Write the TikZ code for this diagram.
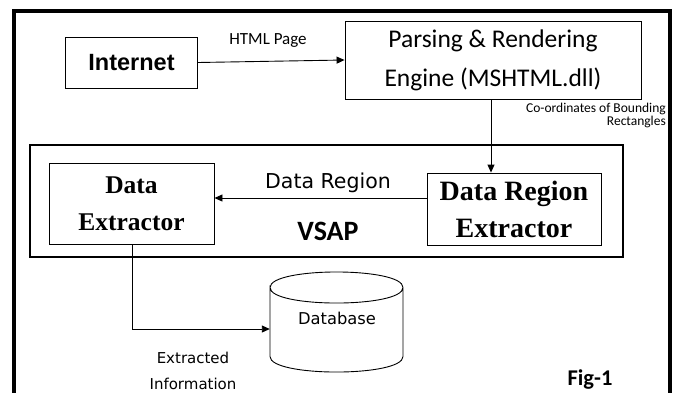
\documentclass[tikz,border=0pt]{standalone}
\usepackage{fontspec}
\setmainfont{Liberation Serif}
\newfontfamily\carfont{Carlito}
\newfontfamily\dvsfont{DejaVu Sans}
\newfontfamily\lsansfont{Liberation Sans}
\usetikzlibrary{arrows.meta,calc}
\begin{document}
\begin{tikzpicture}[x=1pt,y=-1pt,
  boxed/.style={draw, line width=0.9pt, inner sep=0pt, align=center},
  conn/.style={line width=0.9pt, -{Triangle[length=8pt,width=7pt]}},
  plain/.style={inner sep=0pt}]
\useasboundingbox (0,0) rectangle (676,392);
% outer frame
\coordinate (fl) at (14,395);
\coordinate (fr) at (670,395);
\draw[line width=3.5pt] (fl) -- (14,11) -- (670,11) -- (fr);
% nodes
\node[boxed, minimum width=132pt, minimum height=51pt,
  font=\lsansfont\bfseries\fontsize{23.5}{26}\selectfont] (inet) at (131.5,62.5) {Internet};
\node[boxed, minimum width=296pt, minimum height=78pt,
  font=\carfont\fontsize{25.5}{39}\selectfont] (parse) at (493,60)
  {Parsing \& Rendering\\Engine (MSHTML.dll)};
\node[draw, line width=2.4pt, minimum width=593pt, minimum height=112pt, inner sep=0pt] (vsap) at (326.5,201) {};
\node[boxed, minimum width=174pt, minimum height=72pt,
  font=\bfseries\fontsize{28}{37}\selectfont] (dre) at (514,209)
  {Data Region\\Extractor};
\node[boxed, minimum width=165pt, minimum height=81pt,
  font=\bfseries\fontsize{25.5}{37}\selectfont] (de) at (131.5,203.5)
  {Data\\Extractor};
% database cylinder
\node[plain, minimum width=133pt, minimum height=100pt] (db) at (336.5,322) {};
\draw[line width=0.9pt] (270,287.5) .. controls (270,266.8) and (403,266.8) .. (403,287.5)
  .. controls (403,308.2) and (270,308.2) .. (270,287.5) -- (270,356.5)
  .. controls (270,377.2) and (403,377.2) .. (403,356.5) -- (403,287.5);
\node[plain, font=\dvsfont\fontsize{16.3}{19}\selectfont] (dbl) at (337,318) {Database};
% labels
\node[plain, font=\carfont\fontsize{17}{20}\selectfont] (lhtml) at (268,41) {HTML Page};
\node[plain, anchor=east, font=\carfont\fontsize{13.5}{15}\selectfont] (lco1) at (666,109) {Co-ordinates of Bounding};
\node[plain, anchor=east, font=\carfont\fontsize{13.5}{15}\selectfont] (lco2) at (666,122) {Rectangles};
\node[plain, font=\dvsfont\fontsize{20.5}{24}\selectfont] (ldr) at (328,183) {Data Region};
\node[plain, font=\carfont\bfseries\fontsize{28}{32}\selectfont] (lvsap) at (328,231) {VSAP};
\node[plain, font=\dvsfont\fontsize{15}{18}\selectfont] (lex1) at (193,358) {Extracted};
\node[plain, font=\dvsfont\fontsize{15}{18}\selectfont] (lex2) at (193,384) {Information};
\node[plain, font=\carfont\bfseries\fontsize{22.5}{26}\selectfont] (lfig) at (590,380) {Fig-1};
% connectors
\draw[conn] (inet.east) -- (parse.west);
\draw[conn] (parse.south -| 491,0) -- (dre.north -| 491,0);
\draw[conn] (dre.west |- 0,198) -- (de.east |- 0,198);
\draw[conn] (de.south -| 132,0) |- ($(db.west)+(0,7)$);
\end{tikzpicture}
\end{document}
